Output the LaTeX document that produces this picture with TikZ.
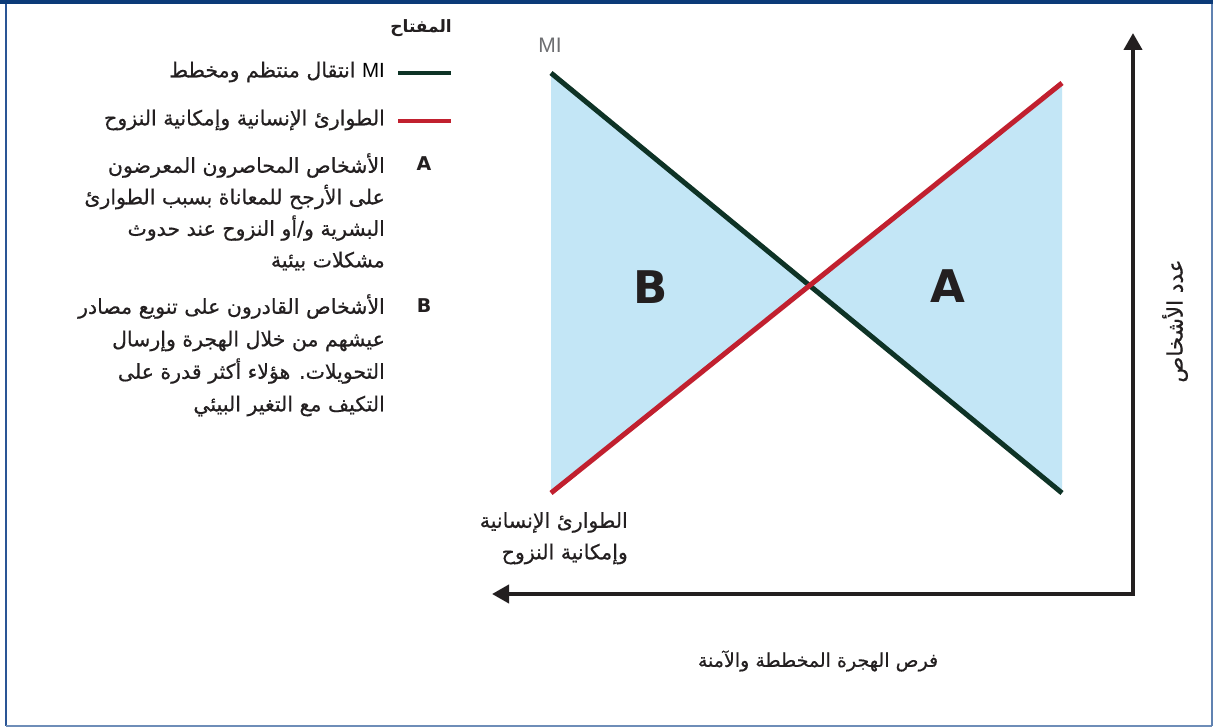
\documentclass[tikz,border=0pt]{standalone}
\usepackage{fontspec}
\usetikzlibrary{arrows.meta}
\TeXXeTstate=1
\newfontfamily\arabicfont[Script=Arabic, FakeBold=0.5]{DejaVu Sans}
\newfontfamily\arabicbold[Script=Arabic]{DejaVu Sans Bold}
\newfontfamily\latinsans{Liberation Sans}
\newfontfamily\latinbold{DejaVu Sans Bold}
\definecolor{framedark}{HTML}{0B3A78}
\definecolor{frameblue}{HTML}{2A5595}
\definecolor{framelight}{HTML}{6E8DB8}
\definecolor{migreen}{HTML}{0E3326}
\definecolor{humred}{HTML}{C1202F}
\definecolor{zonefill}{HTML}{C3E6F6}
\definecolor{axisgray}{HTML}{231F20}
\definecolor{textdark}{HTML}{231F20}
\definecolor{migray}{HTML}{6D6E71}
\begin{document}
\begin{tikzpicture}[x=1pt,y=-1pt,
  artext/.style={text=textdark, inner sep=0pt, font=\arabicfont\fontsize{20.5}{31.5}\selectfont},
  arbold/.style={text=textdark, inner sep=0pt, font=\arabicbold\fontsize{17}{31}\selectfont},
  letterbig/.style={text=textdark, inner sep=0pt, font=\latinbold\fontsize{45}{45}\selectfont},
  lettersmall/.style={text=textdark, inner sep=0pt, font=\latinbold\fontsize{19}{19}\selectfont},
  milabel/.style={text=migray, inner sep=0pt, font=\latinsans\fontsize{21}{21}\selectfont},
  greenline/.style={draw=migreen, line width=5pt},
  redline/.style={draw=humred, line width=5pt},
  axisline/.style={draw=axisgray, line width=4pt, line join=miter}
]
\useasboundingbox (0,0) rectangle (1213,727);
\fill[white] (0,0) rectangle (1213,727);
% frame
\draw[frameblue, line width=2.5pt] (6,4) -- (6,726);
\draw[framelight, line width=2pt] (6,726) -- (1211.5,726);
\draw[framelight!80!frameblue, line width=2pt] (1211.5,4) -- (1211.5,726);
\fill[framedark] (0,0) rectangle (1213,4.5);

% plot coordinates
\coordinate (gs) at (551,73);
\coordinate (ge) at (1062,493);
\coordinate (rs) at (551,493);
\coordinate (re) at (1062,83);
\coordinate (cross) at (intersection of gs--ge and rs--re);

% shaded zones
\fill[zonefill] (gs) -- (rs) -- (cross) -- cycle;
\fill[zonefill] (re) -- (ge) -- (cross) -- cycle;

% lines
\draw[greenline] (gs) -- (ge);
\draw[redline] (rs) -- (re);

% axes
\coordinate (ytip) at (1133,33);
\coordinate (origin) at (1133,594);
\coordinate (xtip) at (492,594);
\draw[axisline, {Triangle[length=17pt,width=18pt]}-{Triangle[length=17pt,width=18pt]}] (ytip) -- (origin) -- (xtip);

% labels in plot
\node[milabel] (mi) at (550,45) {MI};
\node[letterbig] (zoneB) at (651,287) {B};
\node[letterbig] (zoneA) at (948,286) {A};
\node[artext, font=\arabicfont\fontsize{21.5}{30}\selectfont, rotate=90] (ylabel) at (1175,321) {\beginR عدد الأشخاص\endR};
\node[artext, font=\arabicfont\fontsize{19}{30}\selectfont] (xlabel) at (818,661) {\beginR فرص الهجرة المخططة والآمنة\endR};
\node[artext, anchor=north east, align=right] (hum) at (628,512) {\beginR الطوارئ الإنسانية\endR\\ \beginR وإمكانية النزوح\endR};

% legend
\node[arbold, anchor=east] (key) at (452,28) {\beginR المفتاح\endR};
\coordinate (lg1) at (398,73);
\coordinate (lg2) at (451,73);
\draw[draw=migreen, line width=4pt] (lg1) -- (lg2);
\node[artext, anchor=east] (keymi) at (385,72) {\beginR {\color{migray}\latinsans MI} انتقال منتظم ومخطط\endR};
\coordinate (lr1) at (398,121);
\coordinate (lr2) at (451,121);
\draw[draw=humred, line width=4pt] (lr1) -- (lr2);
\node[artext, anchor=east] (keyhum) at (385,120) {\beginR الطوارئ الإنسانية وإمكانية النزوح\endR};

\node[lettersmall] (keyA) at (424,164) {A};
\node[artext, anchor=north east, align=right] (textA) at (385,153) {\beginR الأشخاص المحاصرون المعرضون\endR\\
\beginR على الأرجح للمعاناة بسبب الطوارئ\endR\\
\beginR البشرية و/أو النزوح عند حدوث\endR\\
\beginR مشكلات بيئية\endR};
\node[lettersmall] (keyB) at (424,306) {B};
\node[artext, font=\arabicfont\fontsize{20.5}{32.5}\selectfont, anchor=north east, align=right] (textB) at (385,294) {\beginR الأشخاص القادرون على تنويع مصادر\endR\\
\beginR عيشهم من خلال الهجرة وإرسال\endR\\
\beginR التحويلات. هؤلاء أكثر قدرة على\endR\\
\beginR التكيف مع التغير البيئي\endR};
\end{tikzpicture}
\end{document}
